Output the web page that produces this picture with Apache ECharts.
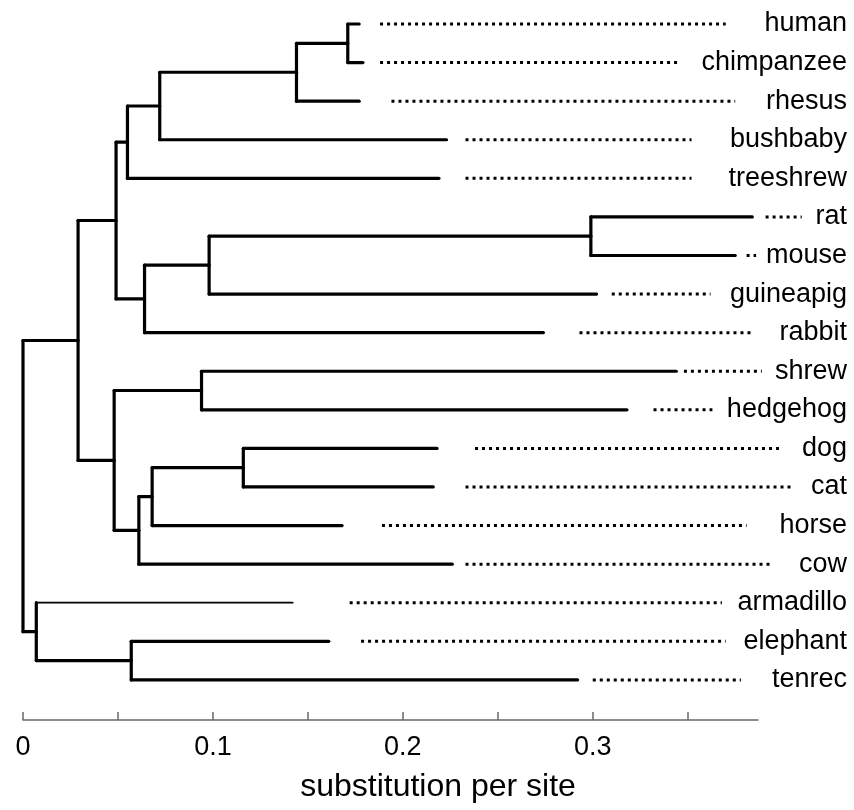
<!DOCTYPE html>
<html>
<head>
<meta charset="utf-8">
<title>Mammalian phylogeny</title>
<script src="https://cdn.jsdelivr.net/npm/echarts@6/dist/echarts.min.js"></script>
<style>
  html, body { margin: 0; padding: 0; background: #ffffff; }
  #chart { width: 854px; height: 810px; }
</style>
</head>
<body>
<div id="chart"></div>
<script>
// Leaves, top to bottom
const leafNames = ['human', 'chimpanzee', 'rhesus', 'bushbaby', 'treeshrew', 'rat', 'mouse',
  'guineapig', 'rabbit', 'shrew', 'hedgehog', 'dog', 'cat', 'horse', 'cow',
  'armadillo', 'elephant', 'tenrec'];
// Distance from the root (substitutions per site) at each leaf tip
const tipDepth = [0.177, 0.179, 0.177, 0.223, 0.219, 0.384, 0.375,
  0.302, 0.274, 0.344, 0.318, 0.218, 0.216, 0.168, 0.226,
  0.142, 0.161, 0.292];
// Dotted leader lines from the tip towards the leaf name
const leaderFrom = [0.188, 0.188, 0.194, 0.233, 0.233, 0.391, 0.381,
  0.310, 0.293, 0.348, 0.332, 0.238, 0.233, 0.189, 0.233,
  0.172, 0.178, 0.300];
const leaderTo = [0.370, 0.346, 0.375, 0.352, 0.352, 0.410, 0.386,
  0.362, 0.385, 0.389, 0.363, 0.400, 0.406, 0.381, 0.395,
  0.368, 0.370, 0.378];

// Internal nodes: name, children and depth from the root
const cladeNames = ['humanChimp', 'hominoidRhesus', 'primates', 'euarchonta', 'euarchontoglires',
  'murinae', 'rodentia', 'glires', 'eulipotyphla', 'carnivora', 'zooamata', 'fereungulata',
  'laurasiatheria', 'boreoeutheria', 'afrotheria', 'atlantogenata', 'eutheria'];
const cladeChildren = [
  ['human', 'chimpanzee'],
  ['humanChimp', 'rhesus'],
  ['hominoidRhesus', 'bushbaby'],
  ['primates', 'treeshrew'],
  ['euarchonta', 'glires'],
  ['rat', 'mouse'],
  ['murinae', 'guineapig'],
  ['rodentia', 'rabbit'],
  ['shrew', 'hedgehog'],
  ['dog', 'cat'],
  ['carnivora', 'horse'],
  ['zooamata', 'cow'],
  ['eulipotyphla', 'fereungulata'],
  ['euarchontoglires', 'laurasiatheria'],
  ['elephant', 'tenrec'],
  ['armadillo', 'afrotheria'],
  ['boreoeutheria', 'atlantogenata']
];
const cladeDepth = [0.171, 0.144, 0.072, 0.055, 0.049,
  0.299, 0.098, 0.064, 0.094, 0.116, 0.068, 0.061,
  0.048, 0.029, 0.057, 0.007, 0.000];

// Axis ticks and labels
const tickValues = [0, 0.05, 0.1, 0.15, 0.2, 0.25, 0.3, 0.35];
const tickLabelValues = [0, 0.1, 0.2, 0.3];
const axisTitle = 'substitution per site';

// Tree layout: leaves sit at their row index, a clade sits midway between its children
const depthOf = {};
const rowOf = {};
leafNames.forEach((n, i) => { depthOf[n] = tipDepth[i]; rowOf[n] = i; });
cladeNames.forEach((n, i) => { depthOf[n] = cladeDepth[i]; });
function rowFor(n) {
  if (n in rowOf) return rowOf[n];
  const k = cladeNames.indexOf(n);
  const rows = cladeChildren[k].map(rowFor);
  rowOf[n] = (Math.min(...rows) + Math.max(...rows)) / 2;
  return rowOf[n];
}
cladeNames.forEach(rowFor);

// Branch segments: [x1, y1, x2, y2, thin]
const thinBranches = ['armadillo'];
const branchSegments = [];
cladeNames.forEach((n, k) => {
  const d = depthOf[n];
  const rows = cladeChildren[k].map(c => rowOf[c]);
  branchSegments.push([d, Math.min(...rows), d, Math.max(...rows), 0]);
  cladeChildren[k].forEach(c => {
    branchSegments.push([d, rowOf[c], depthOf[c], rowOf[c], thinBranches.includes(c) ? 1 : 0]);
  });
});

const leaderData = leafNames.map((n, i) => [leaderFrom[i], leaderTo[i], i]);

const chart = echarts.init(document.getElementById('chart'), null, { renderer: 'canvas' });

chart.setOption({
  backgroundColor: '#ffffff',
  animation: false,
  grid: { left: 23, right: 96, top: 24, bottom: 90 },
  xAxis: {
    type: 'value',
    position: 'bottom',
    min: 0,
    max: 0.387,
    axisLine: { show: true, onZero: false, lineStyle: { color: '#6a6a6a', width: 1.5 } },
    axisTick: {
      show: true,
      inside: true,
      length: 8,
      customValues: tickValues,
      lineStyle: { color: '#6a6a6a', width: 1.5 }
    },
    axisLabel: {
      customValues: tickLabelValues,
      margin: 14,
      color: '#000000',
      fontSize: 27,
      fontFamily: "'Liberation Sans', Arial, sans-serif",
      formatter: v => String(+v.toFixed(2))
    },
    splitLine: { show: false }
  },
  yAxis: {
    type: 'value',
    inverse: true,
    min: 0,
    max: 18.04,
    show: false
  },
  graphic: [{
    type: 'text',
    x: 438,
    y: 787,
    style: {
      text: axisTitle,
      fill: '#000000',
      font: "32px 'Liberation Sans', Arial, sans-serif",
      textAlign: 'center',
      textVerticalAlign: 'middle'
    }
  }],
  series: [
    {
      name: 'branches',
      type: 'custom',
      coordinateSystem: 'cartesian2d',
      clip: false,
      data: branchSegments,
      renderItem: function (params, api) {
        const p1 = api.coord([api.value(0), api.value(1)]);
        const p2 = api.coord([api.value(2), api.value(3)]);
        const thin = api.value(4) === 1;
        return {
          type: 'line',
          shape: { x1: p1[0], y1: p1[1], x2: p2[0], y2: p2[1] },
          style: {
            stroke: '#000000',
            lineWidth: thin ? 1.8 : 3.2,
            lineCap: 'round'
          }
        };
      }
    },
    {
      name: 'leaves',
      type: 'custom',
      coordinateSystem: 'cartesian2d',
      clip: false,
      data: leaderData,
      renderItem: function (params, api) {
        const i = api.value(2);
        const a = api.coord([api.value(0), i]);
        const b = api.coord([api.value(1), i]);
        return {
          type: 'group',
          children: [
            {
              type: 'line',
              shape: { x1: a[0], y1: a[1], x2: b[0], y2: b[1] },
              style: {
                stroke: '#000000',
                lineWidth: 3,
                lineDash: [3, 4],
                lineCap: 'butt'
              }
            },
            {
              type: 'text',
              x: api.getWidth() - 7,
              y: a[1],
              style: {
                text: leafNames[i],
                fill: '#000000',
                font: "27px 'Liberation Sans', Arial, sans-serif",
                textAlign: 'right',
                textVerticalAlign: 'middle'
              }
            }
          ]
        };
      }
    }
  ]
});
</script>
</body>
</html>
